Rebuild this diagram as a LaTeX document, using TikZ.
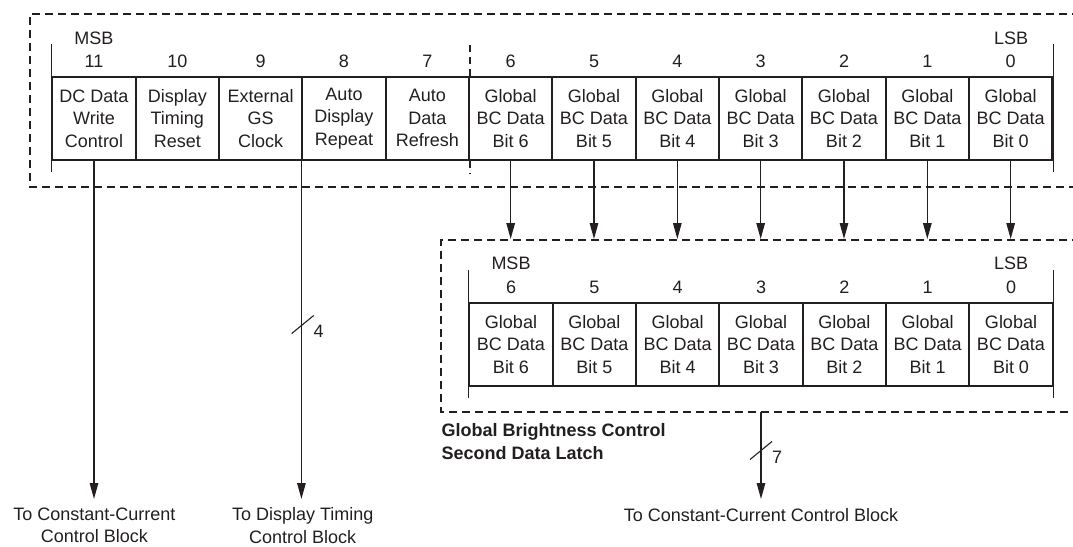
\documentclass[tikz,border=0pt]{standalone}
\usepackage{fontspec}
\setmainfont{Liberation Sans}
\usetikzlibrary{arrows.meta,calc}
\definecolor{ink}{RGB}{35,31,32}
\tikzset{
  cell/.style={draw=ink, line width=1.8pt, minimum width=83.333pt, minimum height=83.3pt,
    inner sep=0pt, align=center, text=ink, font=\fontsize{18}{22.5}\selectfont},
  lbl/.style={inner sep=0pt, text=ink, font=\fontsize{18}{22.5}\selectfont},
  boldlbl/.style={inner sep=0pt, text=ink, align=left, font=\fontsize{18}{23}\selectfont\bfseries},
  conn/.style={draw=ink, line width=1.3pt},
  arr/.style={conn, -{Triangle[length=16pt,width=8.5pt]}},
  tickline/.style={draw=ink, line width=1.3pt},
  sepline/.style={draw=ink, line width=1.3pt, dash pattern=on 7pt off 5pt},
  latchbox/.style={draw=ink, line width=2.3pt, dash pattern=on 8pt off 5pt},
  slash/.style={draw=ink, line width=1.1pt}
}
\begin{document}
\begin{tikzpicture}[x=1pt,y=-1pt]
\useasboundingbox (0,0) rectangle (1073,546);

% ---------- first latch (12 bits) ----------
\draw[latchbox] (1080,14) -- (30,14) -- (30,187) -- (1080,187);
\foreach \k/\t [count=\i from 0] in {
  11/{DC Data\\Write\\Control},
  10/{Display\\Timing\\Reset},
  9/{External\\GS\\Clock},
  8/{Auto\\Display\\Repeat},
  7/{Auto\\Data\\Refresh},
  6/{Global\\BC Data\\Bit 6},
  5/{Global\\BC Data\\Bit 5},
  4/{Global\\BC Data\\Bit 4},
  3/{Global\\BC Data\\Bit 3},
  2/{Global\\BC Data\\Bit 2},
  1/{Global\\BC Data\\Bit 1},
  0/{Global\\BC Data\\Bit 0}}
{
  \node[cell] (t\k) at ({94+\i*83.333},118.35) {\t};
  \node[lbl] (tn\k) at ({94+\i*83.333},61) {\k};
}
\node[lbl] (tmsb) at (94,38) {MSB};
\node[lbl] (tlsb) at (1011,38) {LSB};
\draw[tickline] (t11.north west) ++(0,-31.7) -- ++(0,127.7);
\draw[tickline] (t0.north east) ++(0,-31.7) -- ++(0,127.7);
\draw[sepline] (t7.north east) -- ++(0,-31.7);
\draw[sepline] (t7.south east) -- ++(0,12.7);

% ---------- second latch (7 bits) ----------
\draw[latchbox] (1080,240) -- (441,240) -- (441,412) -- (1080,412);
\foreach \k [count=\i from 0] in {6,5,4,3,2,1,0}
{
  \node[cell] (b\k) at ({511+\i*83.333},344.35) {Global\\BC Data\\Bit \k};
  \node[lbl] (bn\k) at ({511+\i*83.333},287) {\k};
}
\node[lbl] (bmsb) at (511,263) {MSB};
\node[lbl] (blsb) at (1011,263) {LSB};
\draw[tickline] (b6.north west) ++(0,-31.7) -- ++(0,127.7);
\draw[tickline] (b0.north east) ++(0,-31.7) -- ++(0,127.7);

\node[boldlbl, anchor=north west] (title2) at (441.5,423) {Global Brightness Control\\Second Data Latch};

% ---------- connectors ----------
\coordinate (b2top) at (0,239);
\coordinate (b2bot) at (0,412);
\coordinate (outy) at (0,499);
\foreach \k in {6,5,4,3,2,1,0}
  \draw[arr] (t\k.south) -- (t\k.south |- b2top);

\draw[arr] (t11.south) -- (t11.south |- outy);
\draw[arr] (t8.south west) -- (t8.south west |- outy);
\draw[arr] (b3.south |- b2bot) -- (b3.south |- outy);

% bus slashes
\coordinate (s4) at (302.7,324.5);
\draw[slash] ($(s4)+(-11,9)$) -- ($(s4)+(11,-9)$);
\node[lbl, anchor=west] (n4) at (313.5,331) {4};
\coordinate (s7) at (761,450.5);
\draw[slash] ($(s7)+(-11,9)$) -- ($(s7)+(11,-9)$);
\node[lbl, anchor=west] (n7) at (772,457) {7};

% ---------- destination labels ----------
\node[lbl, align=center] (d1) at (94.3,525.5) {To Constant-Current\\Control Block};
\node[lbl, align=center] (d2) at (302.7,525.5) {To Display Timing\\Control Block};
\node[lbl] (d3) at (761,515.5) {To Constant-Current Control Block};
\end{tikzpicture}
\end{document}
